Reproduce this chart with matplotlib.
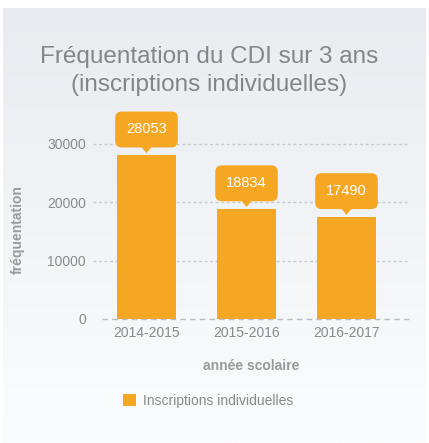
import matplotlib
matplotlib.use("Agg")
import matplotlib.pyplot as plt
import matplotlib.transforms as mtransforms
from matplotlib.patches import Polygon
import numpy as np

plt.rcParams["font.family"] = ["Liberation Sans", "DejaVu Sans"]

# data
years = ["2014-2015", "2015-2016", "2016-2017"]
inscriptions = [28053, 18834, 17490]
y_ticks = [0, 10000, 20000, 30000]

ORANGE = "#f5a623"
GREY = "#8a8a8a"

W, H = 429, 443
fig = plt.figure(figsize=(W / 100, H / 100), dpi=100)
fig.patch.set_facecolor("white")

# light gradient panel behind everything
bg = fig.add_axes([3 / W, 0, 1 - 6 / W, 1 - 8 / H], zorder=-10)
grad = np.linspace(0, 1, 256).reshape(-1, 1)
top = np.array([0xe8, 0xec, 0xf0]) / 255
bottom = np.array([0xfb, 0xfc, 0xfd]) / 255
img = top + (bottom - top) * grad[..., None]
bg.imshow(img, aspect="auto", extent=[0, 1, 0, 1], origin="upper")
bg.axis("off")

ax = fig.add_axes([93 / W, 124 / H, 316 / W, 204.4 / H])
ax.patch.set_alpha(0)

x = np.arange(len(years))
ax.bar(x, inscriptions, width=0.59, color=ORANGE, zorder=3)
ax.set_xlim(-0.535, 2.625)
ax.set_ylim(0, 35000)

ax.set_yticks(y_ticks)
ax.set_xticks(x)
ax.set_xticklabels(years)
ax.tick_params(axis="both", length=0, colors=GREY, labelsize=10)
ax.tick_params(axis="y", pad=5)
ax.tick_params(axis="x", pad=5)
for s in ax.spines.values():
    s.set_visible(False)

for t in y_ticks[1:]:
    ax.axhline(t, color="#c4c8cc", lw=1, ls=(0, (2, 2)), zorder=1)
ax.plot([0.03, 1], [0, 0], transform=ax.transAxes, color="#b8bcc0", lw=1,
        ls=(0, (4, 3)), zorder=4, clip_on=False)

# value bubbles
for i, v in zip(x, inscriptions):
    ax.annotate(str(v), xy=(i, v), xytext=(0, 18.5), textcoords="offset points",
                ha="center", va="center", fontsize=10.5, color="white", zorder=6,
                bbox=dict(boxstyle="round,pad=0.75,rounding_size=0.45",
                          fc=ORANGE, ec="none"))
    trans = fig.dpi_scale_trans + mtransforms.ScaledTranslation(i, v, ax.transData)
    tri = Polygon([(-0.065, 0.1), (0.065, 0.1), (0, 0.02)], closed=True,
                  fc=ORANGE, ec="none", transform=trans, zorder=6, clip_on=False)
    ax.add_patch(tri)

fig.text(209 / W, 1 - 63 / H, "Fréquentation du CDI sur 3 ans", ha="center",
         va="baseline", fontsize=17.5, color="#858585")
fig.text(209 / W, 1 - 91 / H, "(inscriptions individuelles)", ha="center",
         va="baseline", fontsize=17.5, color="#858585")

fig.text(18 / W, 1 - 230 / H, "fréquentation", rotation=90, ha="center",
         va="center", fontsize=10, fontweight="bold", color="#9a9a9a")
fig.text(251 / W, 1 - 366 / H, "année scolaire", ha="center", va="center",
         fontsize=10, fontweight="bold", color="#9a9a9a")

fig.legend(handles=[plt.Rectangle((0, 0), 1, 1, fc=ORANGE, ec="none")],
           labels=["Inscriptions individuelles"], loc="center left",
           bbox_to_anchor=(123 / W, 1 - 401 / H), frameon=False,
           handlelength=0.95, handleheight=0.95, handletextpad=0.5,
           borderpad=0, borderaxespad=0, labelcolor=GREY, fontsize=10)

fig.savefig("out.png", dpi=100, facecolor="white")
